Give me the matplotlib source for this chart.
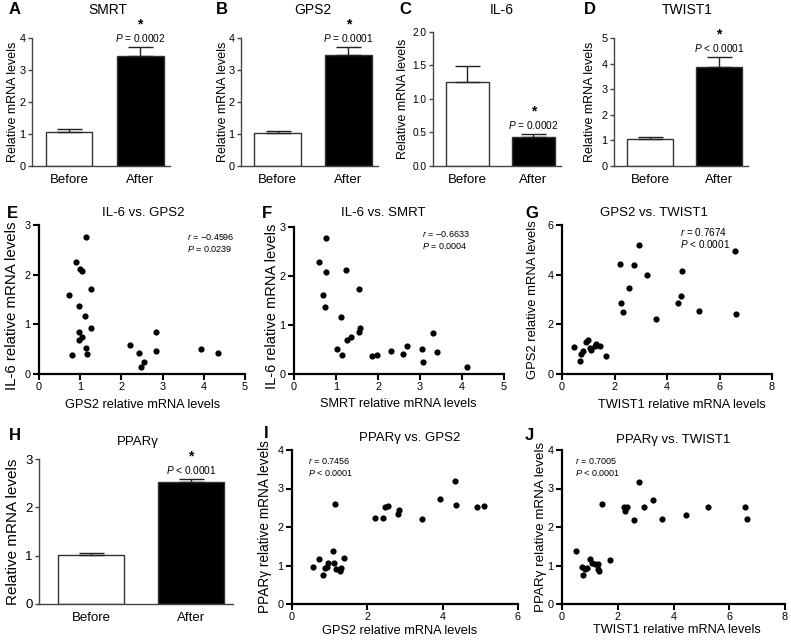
import matplotlib
matplotlib.use("Agg")
import matplotlib.pyplot as plt

plt.rcParams["font.family"] = ["Liberation Sans", "DejaVu Sans"]
plt.rcParams["mathtext.fontset"] = "custom"
plt.rcParams["mathtext.it"] = "Liberation Sans:italic"
plt.rcParams["mathtext.rm"] = "Liberation Sans"

W, H = 791, 642

# ---- bar panels: mean and upper SEM (Before, After)
groups = ["Before", "After"]
smrt_mean = [1.06, 3.45]
smrt_err = [0.10, 0.28]
gps2_mean = [1.02, 3.47]
gps2_err = [0.07, 0.25]
il6_mean = [1.26, 0.43]
il6_err = [0.23, 0.05]
twist1_mean = [1.05, 3.86]
twist1_err = [0.09, 0.39]
pparg_mean = [1.01, 2.52]
pparg_err = [0.05, 0.07]

# ---- scatter panels
e_gps2 = [1.13, 0.89, 1.00, 1.05, 1.25, 0.74, 0.97, 1.12, 1.27, 0.97, 1.05, 0.96,
          1.15, 1.17, 0.81, 2.22, 2.42, 2.56, 2.48, 2.83, 2.85, 3.94, 4.34]
e_il6 = [2.75, 2.26, 2.11, 2.08, 1.71, 1.59, 1.36, 1.17, 0.93, 0.84, 0.75, 0.69,
         0.52, 0.40, 0.38, 0.58, 0.43, 0.25, 0.15, 0.46, 0.84, 0.50, 0.42]

f_smrt = [0.77, 0.60, 0.77, 1.23, 1.54, 0.68, 0.73, 1.13, 1.56, 1.54, 1.35, 1.27,
          1.03, 1.14, 1.85, 1.97, 2.31, 2.60, 2.69, 3.04, 3.06, 3.32, 3.41, 4.11]
f_il6 = [2.77, 2.29, 2.09, 2.12, 1.73, 1.61, 1.37, 1.17, 0.93, 0.85, 0.76, 0.70,
         0.52, 0.39, 0.37, 0.39, 0.46, 0.41, 0.57, 0.50, 0.24, 0.84, 0.44, 0.15]

g_twist1 = [2.93, 6.59, 2.22, 2.73, 4.57, 3.25, 2.56, 2.24, 4.55, 4.42, 2.33, 5.22, 6.64,
            3.57, 0.47, 0.98, 0.92, 1.31, 1.43, 1.25, 1.06, 1.12, 0.79, 0.74, 1.69, 0.70]
g_gps2 = [5.19, 4.97, 4.42, 4.38, 4.14, 3.97, 3.47, 2.85, 3.16, 2.84, 2.49, 2.55, 2.42,
          2.22, 1.07, 1.36, 1.27, 1.22, 1.12, 1.14, 1.05, 0.95, 0.93, 0.80, 0.72, 0.53]

i_gps2 = [1.14, 2.21, 2.41, 2.47, 2.54, 2.83, 2.81, 3.44, 3.92, 4.33, 4.36, 4.91, 5.11,
          0.56, 0.73, 1.09, 1.39, 0.96, 1.11, 0.88, 1.18, 1.27, 1.31, 0.81, 0.94]
i_pparg = [2.60, 2.24, 2.24, 2.52, 2.55, 2.44, 2.33, 2.21, 2.72, 3.20, 2.56, 2.53, 2.55,
           0.97, 1.16, 1.38, 1.19, 1.07, 1.07, 0.94, 0.91, 0.87, 0.94, 0.76, 0.97]

j_twist1 = [2.75, 3.25, 1.44, 2.22, 2.34, 2.26, 2.94, 2.57, 3.58, 4.44, 5.22, 6.58, 6.64,
            0.49, 0.99, 1.17, 1.28, 0.72, 0.91, 0.81, 1.33, 1.30, 0.76, 1.72, 1.09]
j_pparg = [3.17, 2.70, 2.59, 2.53, 2.51, 2.42, 2.53, 2.19, 2.22, 2.31, 2.53, 2.52, 2.22,
           1.37, 1.17, 1.05, 1.03, 0.97, 0.93, 0.91, 0.85, 0.90, 0.75, 1.15, 1.06]

fig = plt.figure(figsize=(W / 100, H / 100), dpi=100)


def rect(x0, x1, ytop, ybot):
    return [x0 / W, 1 - ybot / H, (x1 - x0) / W, (ybot - ytop) / H]


def ftext(x, y, s, **kw):
    fig.text(x / W, 1 - y / H, s, ha=kw.pop("ha", "center"), va=kw.pop("va", "center"), **kw)


def bar_panel(r, mean, err, ymax, yticks, ptxt, ylab_x, yfmt=None, ylab_size=9, tick_size=7.8):
    ax = fig.add_axes(r)
    ax.bar([0, 1], mean, width=0.66, color=["white", "black"], edgecolor="#333333", linewidth=1)
    ax.errorbar([0, 1], mean, yerr=[[0, 0], err], fmt="none", ecolor="#222222",
                elinewidth=1, capsize=9, capthick=1)
    ax.set_xlim(-0.52, 1.42)
    ax.set_ylim(0, ymax)
    for s in ["top", "right"]:
        ax.spines[s].set_visible(False)
    for s in ["left", "bottom"]:
        ax.spines[s].set_linewidth(1)
        ax.spines[s].set_color("#444444")
    ax.set_xticks([0, 1])
    ax.set_xticklabels(groups, fontsize=9.5)
    ax.tick_params(axis="x", length=0, pad=6)
    ax.set_yticks(yticks)
    if yfmt:
        ax.set_yticklabels([yfmt.format(t) for t in yticks])
    ax.tick_params(axis="y", length=3, width=1, color="#444444", labelsize=tick_size, pad=1.5)
    top = mean[1] + err[1]
    ax.annotate(ptxt, (1, top), xytext=(0, 2), textcoords="offset points",
                ha="center", va="bottom", fontsize=7.3, annotation_clip=False)
    ax.annotate("*", (1, top), xytext=(0, 11), textcoords="offset points",
                ha="center", va="bottom", fontsize=10, fontweight="bold", annotation_clip=False)
    bb = ax.get_position()
    fig.text(ylab_x / W, bb.y0 + bb.height / 2, "Relative mRNA levels", rotation=90,
             ha="center", va="center", fontsize=ylab_size)
    return ax


def scatter_panel(r, x, y, xmax, xticks, ymax, yticks, rtxt, ptxt, tx, ty, asize=6.5):
    ax = fig.add_axes(r)
    ax.scatter(x, y, s=20, color="black", linewidths=0, clip_on=False, zorder=3)
    ax.set_xlim(0, xmax)
    ax.set_ylim(0, ymax)
    for s in ["top", "right"]:
        ax.spines[s].set_visible(False)
    for s in ["left", "bottom"]:
        ax.spines[s].set_linewidth(1.6)
    ax.set_xticks(xticks)
    ax.set_yticks(yticks)
    ax.tick_params(length=4, width=1.5, labelsize=7.8, pad=2)
    ax.text(tx, ty, rtxt, transform=ax.transAxes, fontsize=asize, ha="left", va="center")
    ax.text(tx, ty - 0.08, ptxt, transform=ax.transAxes, fontsize=asize, ha="left", va="center")
    return ax


# row 1: bar charts
bar_panel(rect(32, 170, 38, 166), smrt_mean, smrt_err, 4, [0, 1, 2, 3, 4],
          r"$P$ = 0.0002", 13)
bar_panel(rect(241, 378, 38, 166), gps2_mean, gps2_err, 4, [0, 1, 2, 3, 4],
          r"$P$ = 0.0001", 223)
bar_panel(rect(433, 561, 32, 166), il6_mean, il6_err, 2, [0, 0.5, 1, 1.5, 2],
          r"$P$ = 0.0002", 403, yfmt="{:.1f}", tick_size=7.3)
bar_panel(rect(614, 748, 38, 166), twist1_mean, twist1_err, 5, [0, 1, 2, 3, 4, 5],
          r"$P$ < 0.0001", 590)

ftext(108, 10, "SMRT", fontsize=10)
ftext(313, 10, "GPS2", fontsize=10)
ftext(502, 10, "IL-6", fontsize=10)
ftext(687, 10, "TWIST1", fontsize=10)

# row 2: correlations
scatter_panel(rect(39, 245, 225, 374), e_gps2, e_il6, 5, range(6), 3, range(4),
              "$r$ = \u22120.4596", r"$P$ = 0.0239", 0.72, 0.92)
scatter_panel(rect(294, 504, 227, 374), f_smrt, f_il6, 5, range(6), 3, range(4),
              "$r$ = \u22120.6633", r"$P$ = 0.0004", 0.61, 0.95)
scatter_panel(rect(562, 772, 225, 374), g_twist1, g_gps2, 8, range(0, 9, 2), 6, range(0, 7, 2),
              "$r$ = 0.7674", r"$P$ < 0.0001", 0.56, 0.95, asize=7.2)

ftext(143, 213, "IL-6 vs. GPS2", fontsize=9.5)
ftext(383, 213, "IL-6 vs. SMRT", fontsize=9.5)
ftext(654, 213, "GPS2 vs. TWIST1", fontsize=9.5)
ftext(12, 306, "IL-6 relative mRNA levels", rotation=90, fontsize=10.8)
ftext(272, 306, "IL-6 relative mRNA levels", rotation=90, fontsize=10.5)
ftext(533, 300, "GPS2 relative mRNA levels", rotation=90, fontsize=9.4)
ftext(143, 405, "GPS2 relative mRNA levels", fontsize=9.2)
ftext(398, 404, "SMRT relative mRNA levels", fontsize=9.2)
ftext(682, 405, "TWIST1 relative mRNA levels", fontsize=9.2)

# row 3
bar_panel(rect(39, 233, 459, 604), pparg_mean, pparg_err, 3, [0, 1, 2, 3],
          r"$P$ < 0.0001", 13, ylab_size=11, tick_size=9.5)
ftext(138, 442, "PPAR\u03b3", fontsize=9.5)

scatter_panel(rect(292, 518, 450, 604), i_gps2, i_pparg, 6, range(0, 7, 2), 4, range(5),
              "$r$ = 0.7456", r"$P$ < 0.0001", 0.07, 0.93)
scatter_panel(rect(562, 785, 450, 604), j_twist1, j_pparg, 8, range(0, 9, 2), 4, range(5),
              "$r$ = 0.7005", r"$P$ < 0.0001", 0.06, 0.93)
ftext(410, 438, "PPAR\u03b3 vs. GPS2", fontsize=9.5)
ftext(673, 440, "PPAR\u03b3 vs. TWIST1", fontsize=9.5)
ftext(265, 527, "PPAR\u03b3 relative mRNA levels", rotation=90, fontsize=9.8)
ftext(541, 527, "PPAR\u03b3 relative mRNA levels", rotation=90, fontsize=9.6)
ftext(400, 631, "GPS2 relative mRNA levels", fontsize=9.2)
ftext(677, 630, "TWIST1 relative mRNA levels", fontsize=9.2)

# panel letters
letters = {"A": (15, 10), "B": (222, 10), "C": (405, 10), "D": (590, 10),
           "E": (12, 213), "F": (267, 213), "G": (532, 213),
           "H": (15, 435), "I": (266, 433), "J": (529, 435)}
for k, (x, y) in letters.items():
    ftext(x, y, k, fontsize=12, fontweight="bold")

fig.savefig("out.png", dpi=100)
